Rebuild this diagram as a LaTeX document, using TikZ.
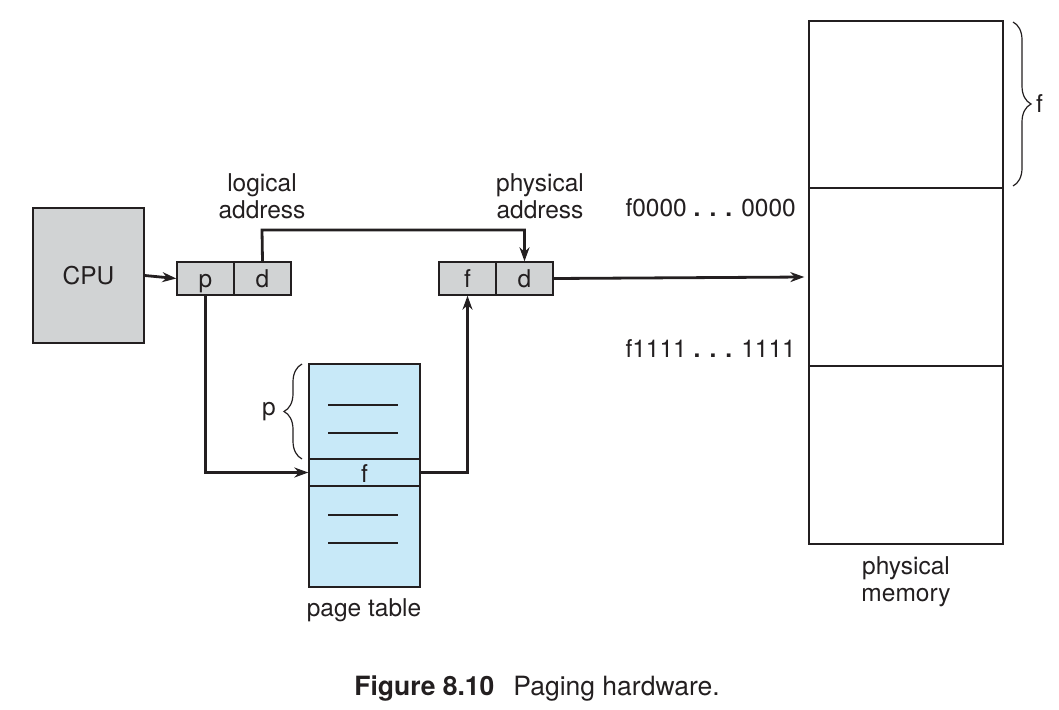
\documentclass[tikz,border=0pt]{standalone}
\usepackage{fontspec}
\setmainfont{TeX Gyre Heros}
\usetikzlibrary{arrows.meta,decorations.pathreplacing}
\definecolor{ink}{HTML}{231F20}
\definecolor{cpugray}{HTML}{D1D3D4}
\definecolor{ptblue}{HTML}{C8E9F8}
\tikzset{
  box/.style={draw=ink,line width=1.4pt,inner sep=0pt,text=ink},
  cell/.style={box,fill=cpugray,minimum width=57pt,minimum height=33pt,text height=22pt,text depth=4pt},
  conn/.style={draw=ink,line width=2.8pt,-{Stealth[length=14pt,width=10pt]}},
  lbl/.style={text=ink,align=center,inner sep=0pt},
  rule/.style={draw=ink,line width=1.3pt},
  brc/.style={draw=ink,line width=1.2pt,decorate,decoration={brace,amplitude=18pt}}
}
\begin{document}
\begin{tikzpicture}[x=1pt,y=-1pt,font=\fontsize{24.5}{27}\selectfont]
\useasboundingbox (0,0) rectangle (1059,709);
% CPU
\node[box,fill=cpugray,minimum width=111pt,minimum height=135pt] (cpu) at (88.5,275.5) {CPU};
% logical address
\node[cell] (lp) at (205.5,278.5) {p};
\node[cell] (ld) at (262.5,278.5) {d};
% physical address
\node[cell] (pf) at (467.5,278.5) {f};
\node[cell] (pd) at (524.5,278.5) {d};
% page table
\node[box,fill=ptblue,minimum width=111pt,minimum height=223pt] (pt) at (364.5,475.5) {};
\node[box,fill=ptblue,minimum width=111pt,minimum height=27pt,text height=22pt,text depth=2pt] (ptf) at (364.5,472.5) {f};
\draw[rule] (328,405) -- (398,405);
\draw[rule] (328,433) -- (398,433);
\draw[rule] (328,515) -- (398,515);
\draw[rule] (328,543) -- (398,543);
% physical memory
\node[box,minimum width=194pt,minimum height=167pt] (m1) at (906,104.5) {};
\node[box,minimum width=194pt,minimum height=178pt] (m2) at (906,277) {};
\node[box,minimum width=194pt,minimum height=178pt] (m3) at (906,455) {};
\coordinate (memin) at (m2.west);
% braces
\draw[brc] (302,459) -- (302,364);
\node[lbl,anchor=east] (pl) at (276,412) {p};
\draw[brc] (1013,22) -- (1013,186);
\node[lbl,anchor=west] (fl) at (1036,104) {f};
% labels
\node[lbl] (la) at (262,196) {logical\\address};
\node[lbl] (pa) at (540,196) {physical\\address};
\node[lbl,anchor=east] (a0) at (796,208) {f0000 \textbf{. . .} 0000};
\node[lbl,anchor=east] (a1) at (796,349) {f1111 \textbf{. . .} 1111};
\node[lbl] (pm) at (906,582) {physical\\memory};
\node[lbl] (ptl) at (364,610) {page table};
\node[lbl,font=\fontsize{26.5}{30}\selectfont] (cap) at (537,689) {\textbf{Figure 8.10}\hspace{19pt}Paging hardware.};
% connectors
\draw[conn] (cpu.east) -- (lp.west);
\draw[conn] (ld.north) -- (262,230) -| (pd.north);
\draw[conn] (lp.south) |- (ptf.west);
\draw[conn] (ptf.east) -| (pf.south);
\draw[conn] (pd.east) -- ([xshift=-4pt]memin);
\end{tikzpicture}
\end{document}
